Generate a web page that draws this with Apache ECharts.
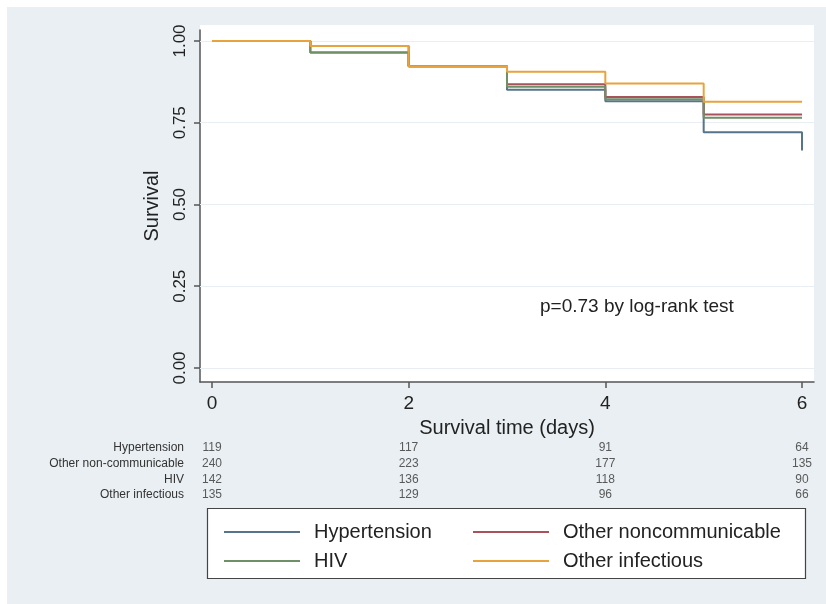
<!DOCTYPE html>
<html>
<head>
<meta charset="utf-8">
<style>
html,body{margin:0;padding:0;background:#ffffff;}
#chart{width:826px;height:604px;}
</style>
<script src="https://cdn.jsdelivr.net/npm/echarts@6/dist/echarts.min.js"></script>
</head>
<body>
<div id="chart"></div>
<script>
// ---- data ----
var times = [0, 1, 2, 3, 4, 5, 6];
var hypertension = [1, 0.965, 0.923, 0.851, 0.816, 0.721, 0.665];
var otherNoncommunicable = [1, 0.985, 0.923, 0.868, 0.829, 0.775, 0.775];
var hiv = [1, 0.965, 0.923, 0.860, 0.822, 0.765, 0.765];
var otherInfectious = [1, 0.985, 0.923, 0.906, 0.870, 0.814, 0.814];

var xTicks = [0, 2, 4, 6];
var yTicks = [0, 0.25, 0.5, 0.75, 1];

var riskTimes = [0, 2, 4, 6];
var riskRows = ['Hypertension', 'Other non-communicable', 'HIV', 'Other infectious'];
var riskHypertension = [119, 117, 91, 64];
var riskOtherNoncomm = [240, 223, 177, 135];
var riskHiv = [142, 136, 118, 90];
var riskOtherInfectious = [135, 129, 96, 66];

var seriesNames = ['Hypertension', 'Other noncommunicable', 'HIV', 'Other infectious'];
var colors = ['#56748a', '#a8525e', '#6f8f64', '#e8a43c'];

// ---- build ----
function pairs(xs, ys) { return xs.map(function (x, i) { return [x, ys[i]]; }); }
var kmSets = [hypertension, otherNoncommunicable, hiv, otherInfectious];
var riskSets = [riskHypertension, riskOtherNoncomm, riskHiv, riskOtherInfectious];

var riskData = [];
riskSets.forEach(function (row, r) {
  row.forEach(function (n, i) { riskData.push([riskTimes[i], riskRows[r], n]); });
});

var font = "'Liberation Sans', Arial, Helvetica, sans-serif";

var series = kmSets.map(function (vals, k) {
  var s = {
    name: seriesNames[k],
    type: 'line',
    step: 'end',
    xAxisIndex: 0, yAxisIndex: 0,
    data: pairs(times, vals),
    showSymbol: false,
    symbol: 'none',
    silent: true,
    z: 5,
    lineStyle: { color: colors[k], width: 2 },
    itemStyle: { color: colors[k] }
  };
  if (k === 0) {
    s.markLine = {
      silent: true, symbol: 'none', z: 1,
      label: { show: false },
      lineStyle: { color: '#e8eef1', width: 1, type: 'solid' },
      data: yTicks.map(function (v) { return { yAxis: v }; })
    };
  }
  return s;
});

series.push({
  type: 'scatter',
  xAxisIndex: 1, yAxisIndex: 1,
  data: riskData,
  symbolSize: 1,
  silent: true,
  itemStyle: { color: 'rgba(0,0,0,0)' },
  label: {
    show: true, position: 'inside',
    formatter: function (p) { return String(p.value[2]); },
    color: '#333', fontFamily: font, fontSize: 12
  }
});

var chart = echarts.init(document.getElementById('chart'), null, { renderer: 'canvas' });
chart.setOption({
  animation: false,
  backgroundColor: '#ffffff',
  graphic: [
    { type: 'rect', z: -10, silent: true, shape: { x: 7, y: 7, width: 830, height: 610 }, style: { fill: '#e9eff2' } },
    { type: 'rect', z: -9, silent: true, shape: { x: 200, y: 25, width: 614, height: 357 }, style: { fill: '#ffffff' } },
    { type: 'rect', z: -9, silent: true, shape: { x: 207.5, y: 508.5, width: 598, height: 70 }, style: { fill: '#ffffff', stroke: '#444', lineWidth: 1.2 } },
    { type: 'text', z: 10, silent: true, left: 540, top: 297, style: { text: 'p=0.73 by log-rank test', font: '19px ' + font, fill: '#222' } }
  ],
  legend: [
    {
      data: ['Hypertension', 'HIV'], orient: 'vertical', left: 219, top: 517,
      itemWidth: 76, itemHeight: 2, itemGap: 9, icon: 'rect',
      textStyle: { fontFamily: font, fontSize: 20, color: '#222', padding: [0, 0, 0, 9] },
      selectedMode: false
    },
    {
      data: ['Other noncommunicable', 'Other infectious'], orient: 'vertical', left: 468, top: 517,
      itemWidth: 76, itemHeight: 2, itemGap: 9, icon: 'rect',
      textStyle: { fontFamily: font, fontSize: 20, color: '#222', padding: [0, 0, 0, 9] },
      selectedMode: false
    }
  ],
  grid: [
    { left: 200, right: 12, top: 30, bottom: 222 },
    { left: 200, right: 12, top: 440, height: 63 }
  ],
  xAxis: [
    {
      type: 'value', gridIndex: 0, min: -0.122, max: 6.122,
      name: 'Survival time (days)', nameLocation: 'middle', nameGap: 36,
      nameTextStyle: { fontFamily: font, fontSize: 20, color: '#222' },
      axisLine: { show: true, onZero: false, lineStyle: { color: '#555', width: 1.5 } },
      axisTick: { show: true, customValues: xTicks, length: 6, lineStyle: { color: '#555', width: 1.5 } },
      axisLabel: { customValues: xTicks, fontFamily: font, fontSize: 19, color: '#222', margin: 12 },
      splitLine: { show: false }
    },
    {
      type: 'value', gridIndex: 1, min: -0.122, max: 6.122, show: false
    }
  ],
  yAxis: [
    {
      type: 'value', gridIndex: 0, min: -0.0428, max: 1.0336,
      name: 'Survival', nameLocation: 'middle', nameGap: 38,
      nameTextStyle: { fontFamily: font, fontSize: 20, color: '#222' },
      axisLine: { show: true, onZero: false, lineStyle: { color: '#555', width: 1.5 } },
      axisTick: { show: true, customValues: yTicks, length: 6, lineStyle: { color: '#555', width: 1.5 } },
      axisLabel: {
        customValues: yTicks, rotate: 90, fontFamily: font, fontSize: 17, color: '#222', margin: 11,
        formatter: function (v) { return v.toFixed(2); }
      },
      splitLine: { show: false }
    },
    {
      type: 'category', gridIndex: 1, data: riskRows, inverse: true,
      axisLine: { show: false }, axisTick: { show: false }, splitLine: { show: false },
      axisLabel: { interval: 0, fontFamily: font, fontSize: 12, color: '#333', margin: 16 }
    }
  ],
  series: series
});
</script>
</body>
</html>
